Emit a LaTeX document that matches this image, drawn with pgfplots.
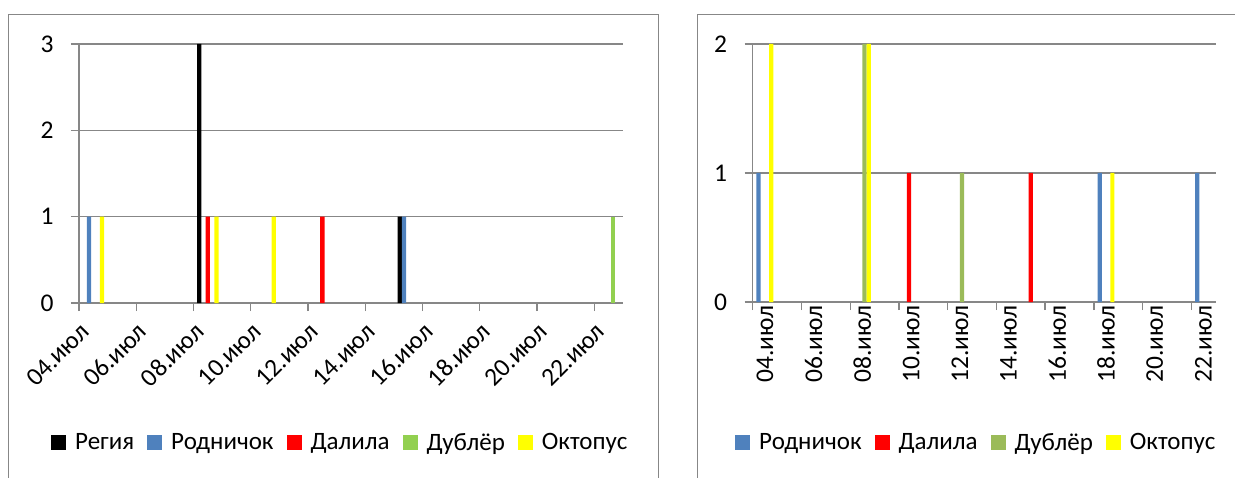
\documentclass[border=0pt]{standalone}
\usepackage{pgfplots}
\pgfplotsset{compat=1.18}
\usepackage{fontspec}
\setmainfont{Carlito}
\definecolor{cReg}{HTML}{000000}
\definecolor{cRod}{HTML}{4F81BD}
\definecolor{cDal}{HTML}{FF0000}
\definecolor{cDubA}{HTML}{92D050}
\definecolor{cDubB}{HTML}{9BBB59}
\definecolor{cOkt}{HTML}{FFFF00}
\definecolor{gridgray}{HTML}{878787}
\pgfplotsset{
  excel/.style={
    scale only axis,
    xmin=3.5, xmax=22.5, ymin=0,
    axis x line*=bottom, axis y line*=left,
    axis line style={gridgray, line width=1.3pt, -},
    ymajorgrids, grid style={gridgray, line width=1.3pt},
    tick align=outside, major tick length=8pt,
    tick style={gridgray, line width=1.3pt},
    xtick={3.5,5.5,7.5,9.5,11.5,13.5,15.5,17.5,19.5,21.5}, xticklabels={},
    extra x ticks={4,6,8,10,12,14,16,18,20,22},
    extra x tick labels={04.июл,06.июл,08.июл,10.июл,12.июл,14.июл,16.июл,18.июл,20.июл,22.июл},
    extra x tick style={major tick length=0pt},
    ticklabel style={font=\fontsize{25.5}{30}\selectfont, text=black},
    yticklabel style={xshift=-14pt},
    /pgf/number format/assume math mode=true,
    legend columns=-1,
    legend style={draw=none, fill=none, font=\fontsize{25}{30}\selectfont, inner sep=0pt,
       /tikz/every odd column/.style={column sep=7pt},
       /tikz/every even column/.style={column sep=11pt}},
    clip=false,
  },
  mybar/.style={ybar, fill=#1, draw=none,
    legend image code/.code={\fill[#1] (0pt,-7.5pt) rectangle (15pt,7.5pt);}},
}
\begin{document}
\begin{tikzpicture}[x=1pt,y=1pt]
\useasboundingbox (0,0) rectangle (1235,477);
\draw[gridgray, line width=1.5pt] (8.7,-10) rectangle (658.5,462.3);
\draw[gridgray, line width=1.5pt] (697.3,-10) rectangle (1250,462.3);
% Left chart
\begin{axis}[excel, at={(79pt,174pt)}, anchor=south west,
  width=544pt, height=259pt, ymax=3, ytick={0,1,2,3},
  extra x tick style={xticklabel style={xshift=-6pt, yshift=-22pt, rotate=45, anchor=east}},
  legend style={at={(-0.0515,-0.5386)}, anchor=west}]
\addplot[mybar=cReg, bar width=0.15, bar shift=-0.3] coordinates {(8,3) (15,1)};
\addlegendentry{Регия}
\addplot[mybar=cRod, bar width=0.15, bar shift=-0.15] coordinates {(4,1) (15,1)};
\addlegendentry{Родничок}
\addplot[mybar=cDal, bar width=0.15, bar shift=0] coordinates {(8,1) (12,1)};
\addlegendentry{Далила}
\addplot[mybar=cDubA, bar width=0.15, bar shift=0.15] coordinates {(22,1)};
\addlegendentry{Дублёр}
\addplot[mybar=cOkt, bar width=0.15, bar shift=0.3] coordinates {(4,1) (8,1) (10,1)};
\addlegendentry{Октопус}
\end{axis}
% Right chart
\begin{axis}[excel, at={(752.7pt,175pt)}, anchor=south west,
  width=463pt, height=258pt, ymax=2, ytick={0,1,2},
  extra x tick style={xticklabel style={rotate=90, anchor=east}},
  legend style={at={(-0.0382,-0.5446)}, anchor=west}]
\addplot[mybar=cRod, bar width=0.173, bar shift=-0.26] coordinates {(4,1) (18,1) (22,1)};
\addlegendentry{Родничок}
\addplot[mybar=cDal, bar width=0.173, bar shift=-0.087] coordinates {(10,1) (15,1)};
\addlegendentry{Далила}
\addplot[mybar=cDubB, bar width=0.173, bar shift=0.087] coordinates {(8,2) (12,1)};
\addlegendentry{Дублёр}
\addplot[mybar=cOkt, bar width=0.173, bar shift=0.26] coordinates {(4,2) (8,2) (18,1)};
\addlegendentry{Октопус}
\end{axis}
\end{tikzpicture}
\end{document}
